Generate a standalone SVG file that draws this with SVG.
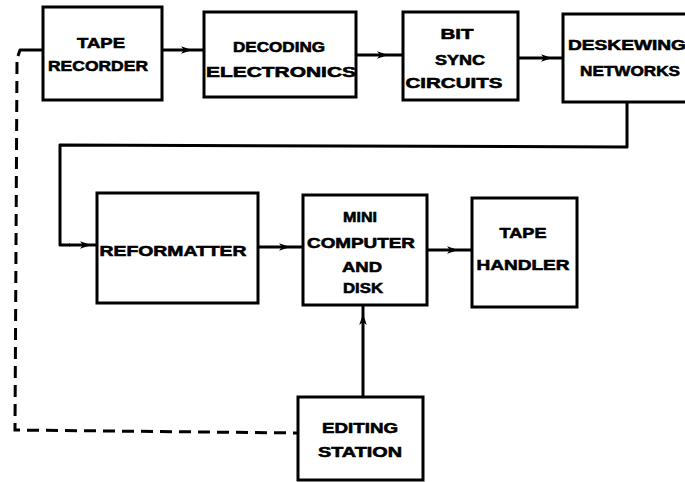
<svg xmlns="http://www.w3.org/2000/svg" width="685" height="482" viewBox="0 0 685 482">
<style>
.box{fill:#fff;stroke:#000;stroke-width:3}
.ln{fill:none;stroke:#000;stroke-width:3;stroke-linejoin:round}
.dash{fill:none;stroke:#000;stroke-width:3;stroke-dasharray:12 7}
text{font-family:"Liberation Sans",Arial,sans-serif;font-weight:bold;font-size:15.5px;fill:#000;stroke:#000;stroke-width:0.6;text-anchor:middle}
</style>
<defs>
<marker id="ar" markerUnits="userSpaceOnUse" markerWidth="14" markerHeight="10" viewBox="-10 -5 14 10" refX="0" refY="0" orient="auto">
<path d="M2,0 L-9,-3.8 L-6,0 L-9,3.8 Z" fill="#000"/>
</marker>
</defs>
<rect width="685" height="482" fill="#fff"/>
<g id="connectors">
<path class="ln" d="M162,50 L190,50 L204,50" marker-mid="url(#ar)"/>
<path class="ln" d="M356,55 L386,55 L403,55" marker-mid="url(#ar)"/>
<path class="ln" d="M518,58 L550,58 L563,58" marker-mid="url(#ar)"/>
<path class="ln" d="M627,102 L627,147 L60,145 L60,245 L70,245"/>
<path class="ln" d="M69,245 L89,245 L97,245" marker-mid="url(#ar)"/>
<path class="ln" d="M258,247 L288,247 L303,247" marker-mid="url(#ar)"/>
<path class="ln" d="M427,250 L456,250 L472,250" marker-mid="url(#ar)"/>
<path class="ln" d="M363,397 L363,316 L363,305" marker-mid="url(#ar)"/>
<path class="ln" d="M43,50 L20,50 L18,56"/>
<path class="dash" d="M17,62 L15,430 L298,433"/>
</g>
<g id="tape-recorder">
<rect class="box" x="43" y="7" width="119" height="93"/>
<text x="101" y="48" textLength="48" lengthAdjust="spacingAndGlyphs">TAPE</text>
<text x="98" y="71" textLength="100" lengthAdjust="spacingAndGlyphs">RECORDER</text>
</g>
<g id="decoding-electronics">
<rect class="box" x="204" y="12" width="152" height="85"/>
<text x="279" y="52" textLength="92" lengthAdjust="spacingAndGlyphs">DECODING</text>
<text x="281" y="77" textLength="150" lengthAdjust="spacingAndGlyphs">ELECTRONICS</text>
</g>
<g id="bit-sync-circuits">
<rect class="box" x="403" y="12" width="115" height="88"/>
<text x="457" y="39" textLength="33" lengthAdjust="spacingAndGlyphs">BIT</text>
<text x="460" y="65" textLength="50" lengthAdjust="spacingAndGlyphs">SYNC</text>
<text x="454" y="88" textLength="97" lengthAdjust="spacingAndGlyphs">CIRCUITS</text>
</g>
<g id="deskewing-networks">
<rect class="box" x="563" y="14" width="130" height="88"/>
<text x="627" y="50" textLength="118" lengthAdjust="spacingAndGlyphs">DESKEWING</text>
<text x="630" y="76" textLength="100" lengthAdjust="spacingAndGlyphs">NETWORKS</text>
</g>
<g id="reformatter">
<rect class="box" x="97" y="193" width="161" height="110"/>
<text x="173" y="256" textLength="147" lengthAdjust="spacingAndGlyphs">REFORMATTER</text>
</g>
<g id="mini-computer">
<rect class="box" x="303" y="195" width="124" height="110"/>
<text x="360" y="222" textLength="34" lengthAdjust="spacingAndGlyphs">MINI</text>
<text x="361" y="248" textLength="108" lengthAdjust="spacingAndGlyphs">COMPUTER</text>
<text x="362" y="272" textLength="40" lengthAdjust="spacingAndGlyphs">AND</text>
<text x="363" y="293" textLength="40" lengthAdjust="spacingAndGlyphs">DISK</text>
</g>
<g id="tape-handler">
<rect class="box" x="472" y="198" width="105" height="109"/>
<text x="523" y="238" textLength="47" lengthAdjust="spacingAndGlyphs">TAPE</text>
<text x="523" y="270" textLength="93" lengthAdjust="spacingAndGlyphs">HANDLER</text>
</g>
<g id="editing-station">
<rect class="box" x="298" y="397" width="125" height="83"/>
<text x="360" y="433" textLength="76" lengthAdjust="spacingAndGlyphs">EDITING</text>
<text x="360" y="457" textLength="84" lengthAdjust="spacingAndGlyphs">STATION</text>
</g>
</svg>
